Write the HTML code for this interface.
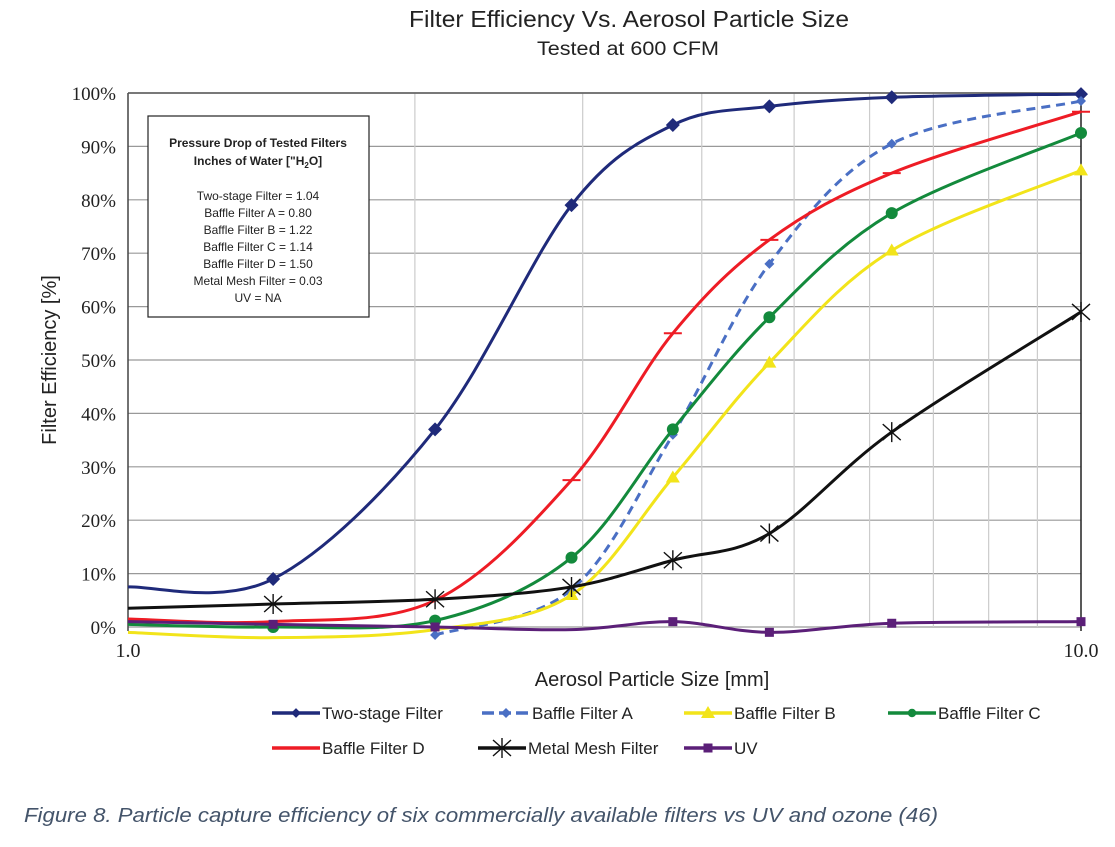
<!DOCTYPE html>
<html><head><meta charset="utf-8">
<style>
body{margin:0;background:#fff;width:1115px;height:847px;overflow:hidden;font-family:"Liberation Sans",sans-serif}
svg{position:absolute;left:0;top:0}
</style></head>
<body>
<svg id="chart" width="1115" height="847">
<text x="409" y="27" textLength="440" lengthAdjust="spacingAndGlyphs" font-size="23" fill="#222">Filter Efficiency Vs. Aerosol Particle Size</text>
<text x="537" y="55" textLength="182" lengthAdjust="spacingAndGlyphs" font-size="19" fill="#222">Tested at 600 CFM</text>
<g id="grid"></g>
<g id="axes"></g>
<g id="series"></g>
<g>
<rect x="148" y="116" width="221" height="201" fill="#fff" stroke="#222" stroke-width="1.2"/>
<text x="258" y="147" text-anchor="middle" font-size="12" font-weight="bold" fill="#222">Pressure Drop of Tested Filters</text>
<text x="258" y="165" text-anchor="middle" font-size="12" font-weight="bold" fill="#222">Inches of Water ["H<tspan font-size="8" dy="3">2</tspan><tspan dy="-3">O]</tspan></text>
<text x="258" y="200" text-anchor="middle" font-size="12" fill="#222">Two-stage Filter = 1.04</text>
<text x="258" y="217" text-anchor="middle" font-size="12" fill="#222">Baffle Filter A = 0.80</text>
<text x="258" y="234" text-anchor="middle" font-size="12" fill="#222">Baffle Filter B = 1.22</text>
<text x="258" y="251" text-anchor="middle" font-size="12" fill="#222">Baffle Filter C = 1.14</text>
<text x="258" y="268" text-anchor="middle" font-size="12" fill="#222">Baffle Filter D = 1.50</text>
<text x="258" y="285" text-anchor="middle" font-size="12" fill="#222">Metal Mesh Filter = 0.03</text>
<text x="258" y="302" text-anchor="middle" font-size="12" fill="#222">UV = NA</text>
</g>
<text x="652" y="686" text-anchor="middle" font-size="20" fill="#222">Aerosol Particle Size [mm]</text>
<text x="0" y="0" transform="translate(56,360) rotate(-90)" text-anchor="middle" font-size="20" fill="#222">Filter Efficiency [%]</text>
<g id="legend"></g>
<text x="24" y="822" textLength="914" lengthAdjust="spacingAndGlyphs" font-size="20" font-style="italic" fill="#44546a">Figure 8. Particle capture efficiency of six commercially available filters vs UV and ozone (46)</text>
</svg>
<script>
const sizes = [1.0, 1.42, 2.1, 2.92, 3.73, 4.71, 6.33, 10.0];
const twoStage = [7.5, 9, 37, 79, 94, 97.5, 99.2, 99.8];
const baffleA = [null, null, -1.5, 7, 36, 68, 90.5, 98.5];
const baffleB = [-1, -2, -0.5, 6, 28, 49.5, 70.5, 85.5];
const baffleC = [0.5, 0, 1.2, 13, 37, 58, 77.5, 92.5];
const baffleD = [1.5, 1, 5, 27.5, 55, 72.5, 85, 96.5];
const metalMesh = [3.5, 4.3, 5.2, 7.5, 12.5, 17.5, 36.5, 59];
const uv = [1, 0.5, 0, -0.5, 1, -1, 0.7, 1];
const yTicks = [0,10,20,30,40,50,60,70,80,90,100];
const xGrid = [2,3,4,5,6,7,8,9];

const NS="http://www.w3.org/2000/svg";
const X0=128,X1=1081,Y0=627,Y1=93;
const xs=v=>X0+(X1-X0)*Math.log10(v);
const ys=v=>Y0-(Y0-Y1)*v/100;
function mk(tag,attrs,parent){const e=document.createElementNS(NS,tag);for(const k in attrs)e.setAttribute(k,attrs[k]);parent.appendChild(e);return e;}
const grid=document.getElementById('grid'),axes=document.getElementById('axes'),ser=document.getElementById('series'),leg=document.getElementById('legend');

yTicks.forEach(t=>{
  const l=mk('line',{x1:X0,x2:X1,y1:ys(t),y2:ys(t),stroke:'#999','stroke-width':1.2},grid);
  
  
  const tx=mk('text',{x:116,y:ys(t)+7,'text-anchor':'end','font-size':19,'font-family':"'Liberation Serif',serif",fill:'#222'},axes);
  tx.textContent=t+'%';
  
  
});
xGrid.forEach(v=>{
  const l=mk('line',{x1:xs(v),x2:xs(v),y1:Y1,y2:Y0,stroke:'#ccc','stroke-width':1.2},grid);
  
  
});
mk('line',{x1:X0,x2:X0,y1:Y1,y2:Y0+4,stroke:'#444','stroke-width':1.5},axes);
mk('line',{x1:X1,x2:X1,y1:Y1,y2:Y0+4,stroke:'#222','stroke-width':1.5},axes);
mk('line',{x1:X0,x2:X1,y1:Y1,y2:Y1,stroke:'#555','stroke-width':1.5},axes);
[[1,'1.0'],[10,'10.0']].forEach(([v,s])=>{
  const tx=mk('text',{x:xs(v),y:657,'text-anchor':'middle','font-size':20,'font-family':"'Liberation Serif',serif",fill:'#222'},axes);
  tx.textContent=s;
  
  
});

function smooth(pts){
  let d='M'+pts[0][0]+','+pts[0][1];
  for(let i=0;i<pts.length-1;i++){
    const p0=pts[Math.max(i-1,0)],p1=pts[i],p2=pts[i+1],p3=pts[Math.min(i+2,pts.length-1)];
    const c1=[p1[0]+(p2[0]-p0[0])/6,p1[1]+(p2[1]-p0[1])/6];
    const c2=[p2[0]-(p3[0]-p1[0])/6,p2[1]-(p3[1]-p1[1])/6];
    d+=' C'+c1+' '+c2+' '+p2;
  }
  return d;
}
function marker(type,x,y,color,parent){
  let e;
  if(type==='diamond'){e=mk('path',{d:`M${x},${y-7}L${x+7},${y}L${x},${y+7}L${x-7},${y}Z`,fill:color},parent);}
  else if(type==='sdiamond'){e=mk('path',{d:`M${x},${y-5}L${x+5},${y}L${x},${y+5}L${x-5},${y}Z`,fill:color},parent);}
  else if(type==='tri'){e=mk('path',{d:`M${x},${y-7}L${x+7},${y+5}L${x-7},${y+5}Z`,fill:color},parent);}
  else if(type==='circle'){e=mk('circle',{cx:x,cy:y,r:6,fill:color},parent);}
  else if(type==='dash'){e=mk('line',{x1:x-9,x2:x+9,y1:y,y2:y,stroke:color,'stroke-width':2},parent);}
  else if(type==='star'){e=mk('path',{d:`M${x-9},${y-8}L${x+9},${y+8}M${x-9},${y+8}L${x+9},${y-8}M${x},${y-10}L${x},${y+10}`,stroke:color,'stroke-width':1.4,fill:'none'},parent);}
  else if(type==='square'){e=mk('rect',{x:x-4.5,y:y-4.5,width:9,height:9,fill:color},parent);}
  return e;
}
const series=[
 {name:'Two-stage Filter',vals:twoStage,color:'#1f2a7a',mk:'diamond',dash:null,skip:[0]},
 {name:'Baffle Filter A',vals:baffleA,color:'#4a6fc4',mk:'sdiamond',dash:'9,6',skip:[]},
 {name:'Baffle Filter B',vals:baffleB,color:'#f2e41a',mk:'tri',dash:null,skip:[0,1,2]},
 {name:'Baffle Filter C',vals:baffleC,color:'#138a3c',mk:'circle',dash:null,skip:[0]},
 {name:'Baffle Filter D',vals:baffleD,color:'#ee1c25',mk:'dash',dash:null,skip:[0,1,2]},
 {name:'Metal Mesh Filter',vals:metalMesh,color:'#111',mk:'star',dash:null,skip:[0]},
 {name:'UV',vals:uv,color:'#5b1f78',mk:'square',dash:null,skip:[0,3]}
];
series.forEach(s=>{
  const g=mk('g',{},ser);
  
  
  const pts=[];
  sizes.forEach((x,i)=>{if(s.vals[i]!==null)pts.push([xs(x),ys(s.vals[i]),i]);});
  const p=mk('path',{d:smooth(pts.map(q=>[q[0],q[1]])),fill:'none',stroke:s.color,'stroke-width':3},g);
  if(s.dash)p.setAttribute('stroke-dasharray',s.dash);
  
  
  pts.forEach(q=>{
    if(s.skip.includes(q[2]))return;
    const m=marker(s.mk,q[0],q[1],s.color,g);
    
    
  });
});
const legPos=[[272,713],[482,713],[684,713],[888,713],[272,748],[478,748],[684,748]];
series.forEach((s,i)=>{
  const [lx,ly]=legPos[i];
  const g=mk('g',{},leg);
  
  
  const l=mk('line',{x1:lx,x2:lx+48,y1:ly,y2:ly,stroke:s.color,'stroke-width':3.5},g);
  if(s.dash)l.setAttribute('stroke-dasharray','12,5');
  if(s.mk!=='dash'){const m=marker(s.mk,lx+24,ly,s.color,g);if(s.mk==='circle'||s.mk==='diamond'){m.setAttribute('transform',`translate(${lx+24},${ly}) scale(0.7) translate(${-(lx+24)},${-ly})`);}}
  const t=mk('text',{x:lx+50,y:ly+6,'font-size':17,fill:'#222'},g);
  t.textContent=s.name;
});
</script>
</body></html>
